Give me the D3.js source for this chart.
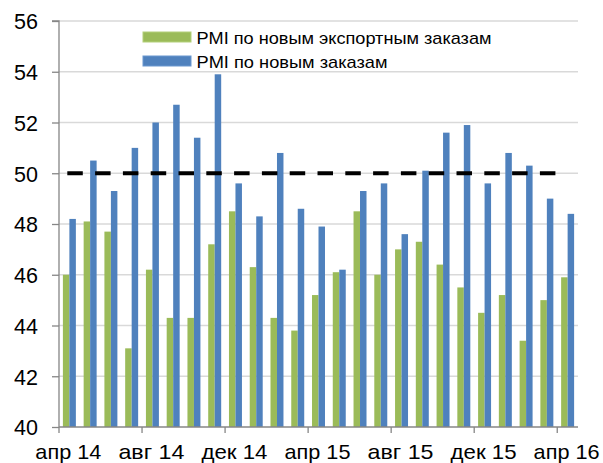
<!DOCTYPE html>
<html><head><meta charset="utf-8">
<script src="https://cdn.jsdelivr.net/npm/d3@7"></script>
<style>body{margin:0;background:#fff;} svg{display:block;font-family:"Liberation Sans",Arial,sans-serif;}</style>
</head><body><svg id="c" width="603" height="463"></svg>
<script>
const months = ["апр 14","май 14","июн 14","июл 14","авг 14","сен 14","окт 14","ноя 14","дек 14","янв 15","фев 15","мар 15","апр 15","май 15","июн 15","июл 15","авг 15","сен 15","окт 15","ноя 15","дек 15","янв 16","фев 16","мар 16","апр 16"];
const exportOrders = [46.0,48.1,47.7,43.1,46.2,44.3,44.3,47.2,48.5,46.3,44.3,43.8,45.2,46.1,48.5,46.0,47.0,47.3,46.4,45.5,44.5,45.2,43.4,45.0,45.9];
const newOrders = [48.2,50.5,49.3,51.0,52.0,52.7,51.4,53.9,49.6,48.3,50.8,48.6,47.9,46.2,49.3,49.6,47.6,50.1,51.6,51.9,49.6,50.8,50.3,49.0,48.4];
const seriesNames = ["PMI по новым экспортным заказам","PMI по новым заказам"];
const yTicks = [40,42,44,46,48,50,52,54,56];
const threshold = 50;

const svg = d3.select("#c");
const L = 59, R = 578, T = 21, B = 427;
const x = d3.scaleBand().domain(d3.range(months.length)).range([L, R]).padding(0);
const y = d3.scaleLinear().domain([40,56]).range([B, T]);
const bw = x.bandwidth();
const inner = d3.scaleBand().domain([0,1]).range([0, bw]).paddingInner(0).paddingOuter(0.6);
const colors = ["#9bbb59","#4f81bd"];
const strokes = ["#b3d07a","#6a97cf"];

// gridlines
svg.append("g").selectAll("line").data(yTicks.filter(t=>t>40)).join("line")
  .attr("x1", L).attr("x2", R).attr("y1", d=>y(d)).attr("y2", d=>y(d))
  .attr("stroke", "#d9d9d9").attr("stroke-width", 1.3);

// bars
const data = [exportOrders, newOrders];
data.forEach((vals, si) => {
  svg.append("g").selectAll("rect").data(vals).join("rect")
    .attr("x", (d,i) => x(i) + inner(si))
    .attr("width", inner.bandwidth())
    .attr("y", d => y(d))
    .attr("height", d => y(40) - y(d))
    .attr("fill", colors[si]);
});

// threshold dashed line
svg.append("line")
  .attr("x1", x(0) + bw*0.4).attr("x2", x(months.length-1) + 0.2)
  .attr("y1", y(threshold)).attr("y2", y(threshold))
  .attr("stroke", "#000").attr("stroke-width", 4)
  .attr("stroke-dasharray", "15.5,12.3");

// y axis
const yAxis = d3.axisLeft(y).tickValues(yTicks).tickSize(7).tickPadding(14).tickFormat(d3.format("d"));
const gy = svg.append("g").attr("transform", `translate(${L},0)`).call(yAxis);
gy.select(".domain").attr("stroke", "#868686").attr("stroke-width", 1.3).attr("d", `M-7,${T}H0V${B}`);
gy.selectAll(".tick line").attr("stroke", "#868686").attr("stroke-width", 1.3);
gy.selectAll(".tick text").attr("font-size", 21.5).attr("fill", "#000").attr("font-family", "Liberation Sans, Arial, sans-serif").attr("dy", "0.36em");

// x axis: ticks at category boundaries every 4, labels centered
const gx = svg.append("g").attr("transform", `translate(0,${B})`);
gx.append("line").attr("x1", L).attr("x2", R).attr("y1", 0).attr("y2", 0).attr("stroke", "#868686").attr("stroke-width", 1.3);
const labIdx = d3.range(0, months.length, 4);
gx.selectAll("line.tk").data(labIdx).join("line").attr("class","tk")
  .attr("x1", i => x(i)).attr("x2", i => x(i)).attr("y1", 0).attr("y2", 6)
  .attr("stroke", "#868686").attr("stroke-width", 1.3);
gx.selectAll("text").data(labIdx).join("text")
  .attr("x", i => x(i) + bw/2 - 1).attr("y", 31.5)
  .attr("text-anchor", "middle").attr("font-size", 21).attr("fill", "#000")
  .attr("textLength", 66).attr("lengthAdjust", "spacingAndGlyphs")
  .text(i => months[i]);

// legend
const lg = svg.append("g");
const legendWidths = [295, 191];
seriesNames.forEach((n, i) => {
  const yy = 37 + i*24;
  lg.append("rect").attr("x", 143).attr("y", yy - 5).attr("width", 48).attr("height", 10)
    .attr("fill", colors[i]).attr("stroke", strokes[i]).attr("stroke-width", 1);
  lg.append("text").attr("x", 196.5).attr("y", yy + 7.3).attr("font-size", 17)
    .attr("textLength", legendWidths[i]).attr("lengthAdjust", "spacingAndGlyphs")
    .attr("fill", "#000").text(n);
});
</script></body></html>
